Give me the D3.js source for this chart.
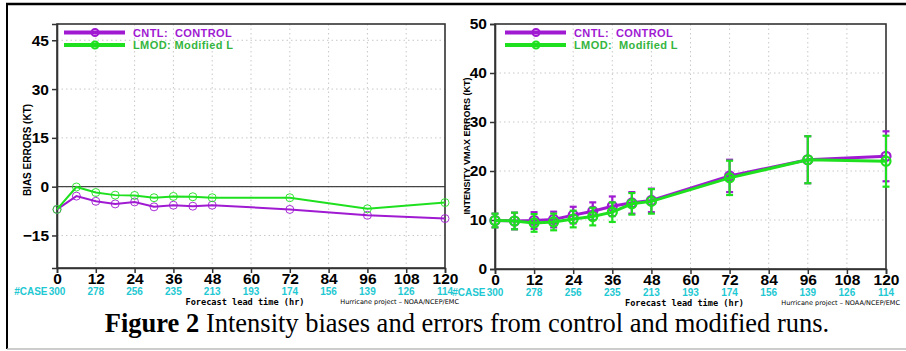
<!DOCTYPE html>
<html><head><meta charset="utf-8">
<script src="https://cdn.jsdelivr.net/npm/d3@7"></script>
<style>
html,body{margin:0;padding:0;background:#fff;}
svg{display:block;}
</style></head>
<body>
<svg id="c" width="906" height="351"></svg>
<script>
// ---- data ----
const hours = [0, 6, 12, 18, 24, 30, 36, 42, 48, 72, 96, 120];
const xTicks = [0, 12, 24, 36, 48, 60, 72, 84, 96, 108, 120];
const caseCounts = ["300", "278", "256", "235", "213", "193", "174", "156", "139", "126", "114"];
const biasCNTL = [-7.0, -2.9, -4.5, -5.3, -4.7, -6.2, -5.7, -6.0, -5.7, -7.0, -8.8, -9.8];
const biasLMOD = [-7.0, -0.1, -1.8, -2.6, -2.7, -3.4, -3.0, -3.1, -3.4, -3.4, -6.8, -4.9];
const errCNTL = [9.9, 9.8, 9.9, 10.1, 11.0, 11.8, 12.8, 13.5, 14.0, 19.0, 22.3, 23.0];
const errLMOD = [9.9, 9.8, 9.4, 9.6, 10.2, 10.7, 11.6, 13.3, 13.8, 18.6, 22.3, 22.0];
const ciCNTL = [1.4, 1.7, 1.7, 1.6, 1.7, 1.8, 2.0, 2.2, 2.4, 3.3, 4.8, 5.1];
const ciLMOD = [1.4, 1.7, 1.8, 1.7, 1.7, 1.8, 2.0, 2.2, 2.5, 3.5, 4.8, 5.2];
const biasTicks = [-15, 0, 15, 30, 45];
const errTicks = [0, 10, 20, 30, 40, 50];
const seriesNames = ["CNTL:  CONTROL", "LMOD: Modified L"];
const seriesNamesR = ["CNTL:  CONTROL", "LMOD:  Modified L"];
const caption = ["Figure 2", " Intensity biases and errors from control and modified runs."];

const PURPLE = "#a01ad2", GREEN = "#1fe01f", CYAN = "#1ec8d2", LTEXT = "#35b540";
const NARROW = "Liberation Sans Narrow, Arial Narrow, Liberation Sans, sans-serif";
const svg = d3.select("#c");

// outer frame
svg.append("line").attr("x1",6).attr("x2",906).attr("y1",4).attr("y2",4).attr("stroke","#000").attr("stroke-width",2.5);
svg.append("line").attr("x1",7).attr("x2",7).attr("y1",3).attr("y2",349).attr("stroke","#000").attr("stroke-width",2);
svg.append("line").attr("x1",7).attr("x2",906).attr("y1",349).attr("y2",349).attr("stroke","#bbb").attr("stroke-width",1.5);

function panel(opt){
  const g = svg.append("g");
  const x = d3.scaleLinear().domain([0,120]).range([opt.x0, opt.x1]);
  const y = d3.scaleLinear().domain(opt.ydom).range([opt.y1, opt.y0]);
  // grid
  g.append("g").selectAll("line").data(xTicks.filter(t=>t>0&&t<120)).join("line")
    .attr("x1",d=>x(d)).attr("x2",d=>x(d)).attr("y1",opt.y0).attr("y2",opt.y1)
    .attr("stroke","#c8c8c8").attr("stroke-width",1).attr("stroke-dasharray","1.5,3");
  g.append("g").selectAll("line").data(opt.yticks.filter(t=>t!==opt.ydom[0] && t!==opt.ydom[1])).join("line")
    .attr("x1",opt.x0).attr("x2",opt.x1).attr("y1",d=>y(d)).attr("y2",d=>y(d))
    .attr("stroke","#c8c8c8").attr("stroke-width",1).attr("stroke-dasharray","1.5,3");
  if (opt.zeroLine) {
    g.append("line").attr("x1",opt.x0).attr("x2",opt.x1).attr("y1",y(0)).attr("y2",y(0))
      .attr("stroke","#444").attr("stroke-width",1.2);
  }
  // frame
  g.append("rect").attr("x",opt.x0).attr("y",opt.y0).attr("width",opt.x1-opt.x0).attr("height",opt.y1-opt.y0)
    .attr("fill","none").attr("stroke","#333").attr("stroke-width",1.6);
  // axes
  const xa = g.append("g").attr("transform",`translate(0,${opt.y1})`)
    .call(d3.axisBottom(x).tickValues(xTicks).tickSize(5).tickPadding(0));
  const ya = g.append("g").attr("transform",`translate(${opt.x0},0)`)
    .call(d3.axisLeft(y).tickValues(opt.yticks).tickSize(5).tickPadding(3).tickFormat(d=>d<0?"\u2212"+Math.abs(d):d));
  [xa,ya].forEach(a=>{
    a.select(".domain").attr("stroke","#333").attr("stroke-width",1.6);
    a.selectAll(".tick line").attr("stroke","#333").attr("stroke-width",1.5);
    a.selectAll("text").attr("font-family",NARROW)
      .attr("font-weight","bold").attr("font-size",15.5).attr("fill","#000");
  });
  // case counts
  g.append("g").selectAll("text").data(xTicks).join("text")
    .attr("x",(d)=>x(d)).attr("y",opt.y1+27)
    .attr("text-anchor","middle").attr("font-family","Liberation Sans, Arial, sans-serif")
    .attr("font-weight","bold").attr("font-size",10).attr("fill",CYAN)
    .text((d,i)=>caseCounts[i]);
  g.append("text").attr("x",x(0)-9.5).attr("y",opt.y1+27).attr("text-anchor","end")
    .attr("font-family","Liberation Sans, Arial, sans-serif").attr("font-weight","bold")
    .attr("font-size",10).attr("fill",CYAN).text("#CASE");
  g.append("text").attr("x",(opt.x0+opt.x1)/2-6).attr("y",opt.y1+36.5).attr("text-anchor","middle")
    .attr("font-family","DejaVu Sans Mono, monospace").attr("font-weight","bold")
    .attr("font-size",8.6).attr("fill","#000").text("Forecast lead time (hr)");
  g.append("text").attr("x",opt.x1+14).attr("y",opt.y1+36).attr("text-anchor","end")
    .attr("font-family","DejaVu Sans, sans-serif").attr("font-size",6.5).attr("fill","#000")
    .text("Hurricane project \u2013 NOAA/NCEP/EMC");
  // y title
  g.append("text").attr("transform",`translate(${opt.ytx},${opt.yty}) rotate(-90)`)
    .attr("text-anchor","middle").attr("font-family",NARROW)
    .attr("font-weight","bold").attr("font-size",opt.ytfs).attr("fill","#000").text(opt.ytitle);

  // series
  const series = [
    {v:opt.a, ci:opt.aci, c:PURPLE},
    {v:opt.b, ci:opt.bci, c:GREEN}
  ];
  const line = d3.line().x((d,i)=>x(hours[i])).y(d=>y(d));
  series.forEach(s=>{
    if (s.ci) {
      const eb = g.append("g").attr("stroke",s.c).attr("stroke-width",2.2);
      hours.forEach((h,i)=>{
        const xx=x(h), top=y(s.v[i]+s.ci[i]), bot=y(s.v[i]-s.ci[i]);
        eb.append("line").attr("x1",xx).attr("x2",xx).attr("y1",top).attr("y2",bot);
        eb.append("line").attr("x1",xx-3.5).attr("x2",xx+3.5).attr("y1",top).attr("y2",top);
        eb.append("line").attr("x1",xx-3.5).attr("x2",xx+3.5).attr("y1",bot).attr("y2",bot);
      });
    }
    g.append("path").datum(s.v).attr("d",line).attr("fill","none")
      .attr("stroke",s.c).attr("stroke-width",opt.lw);
    g.append("g").selectAll("circle").data(s.v).join("circle")
      .attr("cx",(d,i)=>x(hours[i])).attr("cy",d=>y(d)).attr("r",opt.r)
      .attr("fill","none").attr("stroke",s.c).attr("stroke-width",opt.cw).attr("stroke-opacity",opt.co);
  });

  // legend
  const names = opt.names;
  [[PURPLE,PURPLE,"bold"],[GREEN,LTEXT,"bold"]].forEach((c,i)=>{
    const ly = opt.y0 + 8.5 + i*12.5;
    g.append("line").attr("x1",opt.lx).attr("x2",opt.lx+61).attr("y1",ly).attr("y2",ly)
      .attr("stroke",c[0]).attr("stroke-width",4);
    g.append("circle").attr("cx",opt.lx+31).attr("cy",ly).attr("r",3.5)
      .attr("fill","none").attr("stroke",c[0]).attr("stroke-width",2);
    g.append("text").attr("x",opt.lx+69).attr("y",ly+4)
      .attr("font-family",NARROW).attr("font-weight",c[2])
      .attr("font-size",11).attr("letter-spacing",0.4).attr("fill",c[1]).attr("xml:space","preserve").style("white-space","pre")
      .text(names[i]);
  });
}

panel({x0:57, x1:445, y0:24, y1:268, ydom:[-25,50], yticks:biasTicks, zeroLine:true,
  a:biasCNTL, b:biasLMOD, lw:2, r:4, cw:1, co:0.9, lx:64, names:seriesNames,
  ytitle:"BIAS ERRORS (KT)", ytx:31, yty:150, ytfs:10});
panel({x0:495, x1:886, y0:24, y1:269, ydom:[0,50], yticks:errTicks, zeroLine:false,
  a:errCNTL, b:errLMOD, aci:ciCNTL, bci:ciLMOD, lw:3, r:4.5, cw:2.2, co:1, lx:505, names:seriesNamesR,
  ytitle:"INTENSITY VMAX ERRORS (KT)", ytx:470, yty:146, ytfs:9});

// caption
const cap = svg.append("text").attr("x",467).attr("y",332).attr("text-anchor","middle")
  .attr("font-family","Liberation Serif, Times New Roman, serif").attr("font-size",26.5).attr("fill","#000");
cap.append("tspan").attr("font-weight","bold").text(caption[0]);
cap.append("tspan").text(caption[1]);
</script>
</body></html>
